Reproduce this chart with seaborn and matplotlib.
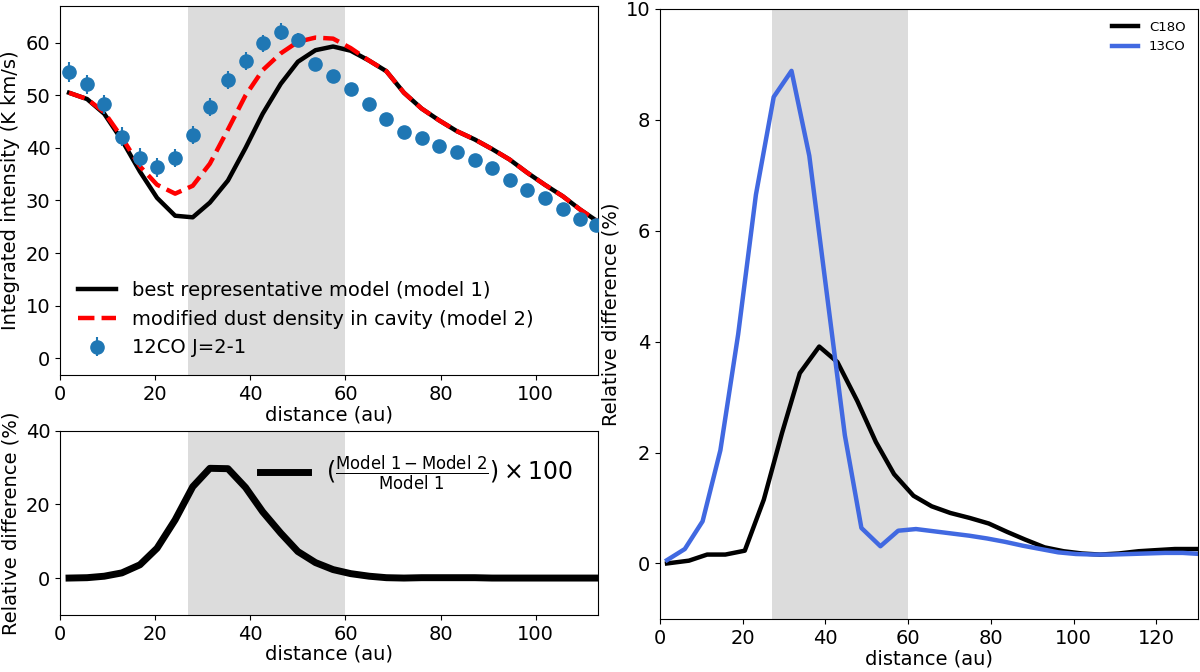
import numpy as np
import pandas as pd
import seaborn as sns
import matplotlib.pyplot as plt

# 12CO J=2-1 profile (top left)
r_obs = [1.9, 5.7, 9.3, 13.0, 16.8, 20.4, 24.2, 27.9, 31.5, 35.3, 39.0, 42.6, 46.4, 50.0, 53.7,
         57.4, 61.1, 65.0, 68.6, 72.3, 76.0, 79.6, 83.4, 87.2, 90.8, 94.5, 98.2, 101.9, 105.7, 109.3, 112.7]
co12 = [54.4, 52.1, 48.3, 42.1, 38.1, 36.3, 38.1, 42.5, 47.8, 53.0, 56.5, 59.9, 62.1, 60.5, 55.9,
        53.7, 51.2, 48.3, 45.5, 43.0, 41.8, 40.4, 39.2, 37.8, 36.1, 33.9, 32.0, 30.4, 28.3, 26.5, 25.3]
co12_err = [1.9, 1.8, 1.8, 1.8, 1.8, 1.8, 1.7, 1.7, 1.7, 1.7, 1.7, 1.6, 1.6, 1.3, 1.3,
            1.1, 1.0, 1.0, 1.0, 1.0, 1.0, 1.0, 1.0, 1.0, 1.0, 1.0, 1.0, 1.0, 1.0, 1.0, 1.0]
model1 = [50.5, 49.3, 46.5, 41.5, 35.5, 30.5, 27.1, 26.8, 29.6, 33.8, 40.0, 46.5, 52.2, 56.4, 58.6,
          59.3, 58.5, 56.6, 54.6, 50.5, 47.5, 45.3, 43.2, 41.6, 39.8, 37.8, 35.3, 33.0, 30.8, 28.3, 26.2]
model2 = [50.5, 49.3, 46.8, 42.0, 36.5, 33.0, 31.3, 32.8, 37.0, 43.5, 50.0, 54.8, 58.0, 60.2, 61.0,
          60.8, 59.0, 56.6, 54.6, 50.5, 47.5, 45.3, 43.2, 41.6, 39.8, 37.8, 35.3, 33.0, 30.8, 28.3, 26.2]

# relative difference model 1 vs model 2 (bottom left)
reldiff = [0.0, 0.1, 0.5, 1.4, 3.6, 8.1, 15.8, 24.8, 29.8, 29.7, 24.6, 18.0, 12.2, 7.2, 4.2,
           2.3, 1.2, 0.5, 0.1, 0.0, 0.1, 0.1, 0.1, 0.1, 0.0, 0.0, 0.0, 0.0, 0.0, 0.0, 0.0]

# isotopologue relative differences (right)
r_c18o = [1.7, 7.0, 11.4, 15.8, 20.5, 25.1, 29.5, 33.8, 38.5, 42.9, 47.7, 52.2, 56.6, 61.3, 65.7,
          70.2, 74.9, 79.5, 83.9, 88.3, 93.0, 97.6, 102.0, 106.4, 111.0, 115.7, 120.0, 124.5, 129.0, 131.0]
c18o = [0.0, 0.05, 0.16, 0.16, 0.23, 1.15, 2.35, 3.43, 3.91, 3.63, 2.93, 2.19, 1.61, 1.22, 1.03,
        0.91, 0.82, 0.72, 0.57, 0.43, 0.29, 0.22, 0.18, 0.16, 0.18, 0.22, 0.24, 0.26, 0.26, 0.26]
r_13co = [1.7, 6.0, 10.3, 14.6, 18.9, 23.2, 27.5, 31.8, 36.1, 40.4, 44.7, 48.7, 53.3, 57.6, 61.9,
          66.2, 70.5, 74.8, 79.1, 83.4, 87.7, 92.0, 96.3, 100.6, 104.9, 109.2, 113.5, 117.8, 122.1, 126.4, 130.7]
co13 = [0.06, 0.26, 0.76, 2.04, 4.13, 6.65, 8.41, 8.88, 7.35, 4.83, 2.31, 0.64, 0.31, 0.59, 0.62,
        0.58, 0.54, 0.50, 0.45, 0.39, 0.32, 0.26, 0.20, 0.17, 0.16, 0.16, 0.17, 0.18, 0.19, 0.19, 0.17]

cavity = (27, 60)
shade = '#dcdcdc'

fig = plt.figure(figsize=(12, 6.72), dpi=100)
ax1 = fig.add_axes([0.05, 0.442, 0.448, 0.549])
ax2 = fig.add_axes([0.05, 0.085, 0.448, 0.274])
ax3 = fig.add_axes([0.55, 0.079, 0.448, 0.908])

fs = 14

# top left
ax1.axvspan(*cavity, color=shade, lw=0, zorder=0)
sns.lineplot(x=r_obs, y=model1, ax=ax1, color='black', lw=3.2,
             label='best representative model (model 1)')
sns.lineplot(x=r_obs, y=model2, ax=ax1, color='red', lw=3.2, linestyle='--',
             label='modified dust density in cavity (model 2)')
ax1.errorbar(r_obs, co12, yerr=co12_err, fmt='o', color='#1f77b4', ms=9.5,
             elinewidth=1.5, zorder=3, label='12CO J=2-1')
ax1.set_xlim(0, 113)
ax1.set_ylim(-3.2, 67)
ax1.set_xticks([0, 20, 40, 60, 80, 100])
ax1.set_yticks([0, 10, 20, 30, 40, 50, 60])
ax1.set_xlabel('distance (au)', fontsize=fs, labelpad=1)
ax1.set_ylabel('Integrated intensity (K km/s)', fontsize=fs)
ax1.tick_params(labelsize=fs)
ax1.legend(loc='lower left', frameon=False, fontsize=14, bbox_to_anchor=(0.0, 0.0))

# bottom left
ax2.axvspan(*cavity, color=shade, lw=0, zorder=0)
sns.lineplot(x=r_obs, y=reldiff, ax=ax2, color='black', lw=5,
             label=r'$(\frac{\mathrm{Model\ 1 - Model\ 2}}{\mathrm{Model\ 1}}) \times 100$')
ax2.set_xlim(0, 113)
ax2.set_ylim(-10, 40)
ax2.set_xticks([0, 20, 40, 60, 80, 100])
ax2.set_yticks([0, 20, 40])
ax2.set_xlabel('distance (au)', fontsize=fs, labelpad=1)
ax2.set_ylabel('Relative difference (%)', fontsize=fs)
ax2.tick_params(labelsize=fs)
ax2.legend(loc='upper right', frameon=False, fontsize=17, bbox_to_anchor=(0.995, 0.99))

# right
ax3.axvspan(*cavity, color=shade, lw=0, zorder=0)
sns.lineplot(x=r_c18o, y=c18o, ax=ax3, color='black', lw=3.2, label='C18O')
sns.lineplot(x=r_13co, y=co13, ax=ax3, color='royalblue', lw=3.2, label='13CO')
ax3.set_xlim(0, 130)
ax3.set_ylim(-1, 10)
ax3.set_xticks([0, 20, 40, 60, 80, 100, 120])
ax3.set_yticks([0, 2, 4, 6, 8, 10])
ax3.set_xlabel('distance (au)', fontsize=fs, labelpad=1)
ax3.set_ylabel('Relative difference (%)', fontsize=fs)
ax3.tick_params(labelsize=fs)
ax3.legend(loc='upper right', frameon=False, fontsize=9.5)

fig.savefig('out.png', dpi=100)
